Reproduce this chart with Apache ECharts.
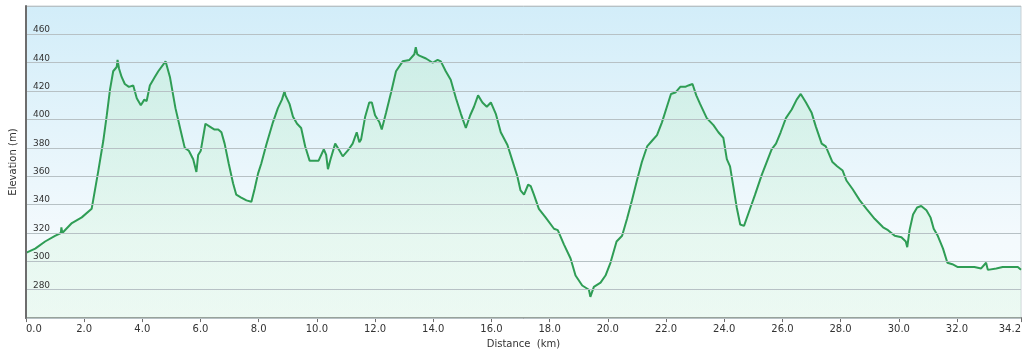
<!DOCTYPE html>
<html>
<head>
<meta charset="utf-8">
<title>Elevation profile</title>
<script src="https://cdn.jsdelivr.net/npm/echarts@6.0.0/dist/echarts.min.js"></script>
<style>
    html, body { margin: 0; padding: 0; background: #fff; }
    #chart { width: 1024px; height: 354px; }
</style>
</head>
<body>
<div id="chart"></div>
<script>
// distance along the route (km)
const distances = [
    0.00, 0.32, 0.66, 1.00, 1.20, 1.22, 1.25, 1.58, 1.92, 2.26, 2.30,
    2.49, 2.66, 2.78, 2.89, 3.00, 3.12, 3.15, 3.20, 3.29, 3.40, 3.54,
    3.69, 3.81, 3.95, 4.07, 4.15, 4.26, 4.43, 4.55, 4.80, 4.95, 5.14,
    5.32, 5.46, 5.60, 5.75, 5.86, 5.92, 6.01, 6.17, 6.32, 6.47, 6.61,
    6.72, 6.83, 6.97, 7.12, 7.23, 7.40, 7.58, 7.75, 7.86, 7.98, 8.09,
    8.26, 8.49, 8.66, 8.80, 8.89, 8.92, 9.06, 9.18, 9.32, 9.46, 9.60,
    9.75, 9.92, 10.06, 10.24, 10.32, 10.38, 10.47, 10.63, 10.78, 10.89,
    11.06, 11.23, 11.37, 11.46, 11.52, 11.66, 11.80, 11.89, 12.00, 12.15,
    12.23, 12.38, 12.55, 12.72, 12.95, 13.18, 13.35, 13.40, 13.45, 13.52,
    13.75, 13.98, 14.15, 14.26, 14.43, 14.60, 14.78, 14.95, 15.12, 15.27,
    15.40, 15.54, 15.69, 15.84, 15.98, 16.15, 16.32, 16.55, 16.72, 16.89,
    17.00, 17.12, 17.26, 17.35, 17.46, 17.63, 17.86, 18.15, 18.28, 18.49,
    18.72, 18.89, 19.12, 19.35, 19.40, 19.52, 19.75, 19.92, 20.09, 20.30,
    20.49, 20.66, 20.83, 21.00, 21.17, 21.35, 21.52, 21.69, 21.86, 22.03,
    22.17, 22.32, 22.49, 22.66, 22.77, 22.91, 23.04, 23.17, 23.40, 23.63,
    23.80, 23.97, 24.09, 24.20, 24.32, 24.43, 24.55, 24.68, 24.87, 25.06,
    25.29, 25.46, 25.63, 25.78, 25.94, 26.12, 26.32, 26.49, 26.63, 26.81,
    27.00, 27.15, 27.35, 27.49, 27.72, 27.88, 28.07, 28.20, 28.41, 28.66,
    28.89, 29.17, 29.46, 29.63, 29.86, 30.09, 30.24, 30.29, 30.37, 30.49,
    30.63, 30.77, 30.95, 31.09, 31.20, 31.34, 31.52, 31.67, 31.84, 32.03,
    32.32, 32.60, 32.83, 33.00, 33.06, 33.35, 33.57, 33.86, 34.09, 34.20
]

// elevation (m)
const elevations = [
    306, 309, 314, 318, 320, 324, 320, 327, 331, 337, 338,
    364, 385, 403, 421, 434, 437, 442, 436, 430, 425, 423,
    424, 415, 410, 414, 413, 424, 430, 434, 441, 430, 408,
    392, 380, 378, 372, 363, 375, 378, 397, 395, 393, 393,
    391, 383, 369, 355, 347, 345, 343, 342, 351, 362, 369,
    382, 398, 408, 414, 420, 417, 411, 402, 397, 394, 381,
    371, 371, 371, 379, 375, 365, 372, 383, 378, 374,
    378, 383, 391, 384, 386, 402, 412, 412, 403, 398,
    393, 405, 419, 434, 441, 442, 446, 451, 446, 445,
    443, 440, 442, 441, 434, 428, 415, 404, 394, 403,
    409, 417, 412, 409, 412, 404, 391, 382, 371, 360,
    350, 347, 354, 353, 347, 337, 331, 323, 322, 312,
    302, 290, 283, 280, 275, 282, 285, 290, 299, 314,
    318, 330, 343, 357, 370, 381, 385, 389, 398, 409,
    418, 419, 423, 423, 424, 425, 417, 411, 401, 396,
    391, 387, 372, 367, 352, 338, 326, 325, 336, 347,
    361, 370, 379, 383, 391, 401, 407, 414, 418, 412,
    405, 395, 383, 381, 370, 367, 364, 357, 351, 343,
    337, 330, 324, 322, 318, 317, 314, 310, 322, 333,
    338, 339, 336, 331, 323, 318, 309, 299, 298, 296,
    296, 296, 295, 299, 294, 295, 296, 296, 296, 294
]

// labelled ticks on the distance axis
const distanceTicks = [0, 2, 4, 6, 8, 10, 12, 14, 16, 18, 20, 22, 24, 26, 28, 30, 32, 34.2]

const fontFamily = '"DejaVu Sans", Verdana, sans-serif'

const chart = echarts.init(document.getElementById('chart'))

const option = {
    backgroundColor: '#ffffff',
    animation: false,
    grid: {
        left: 24,
        right: 2,
        top: 6,
        bottom: 35,
        show: true,
        borderColor: '#c9d1d5',
        borderWidth: 1,
        backgroundColor: new echarts.graphic.LinearGradient(0, 0, 0, 1, [
            { offset: 0, color: '#d2edf9' },
            { offset: 0.75, color: '#f4fafd' },
            { offset: 1, color: '#f6fbfc' }
        ])
    },
    xAxis: {
        type: 'value',
        min: 0,
        max: 34.2,
        name: 'Distance  (km)',
        nameLocation: 'middle',
        nameGap: 19,
        nameTextStyle: { color: '#333', fontSize: 10, fontFamily: fontFamily },
        splitLine: { show: false },
        axisLine: { show: true, lineStyle: { color: '#6d6d6d', width: 2 } },
        axisTick: {
            show: true,
            length: 4,
            customValues: distanceTicks,
            lineStyle: { color: '#6d6d6d' }
        },
        axisLabel: {
            customValues: distanceTicks,
            color: '#333',
            fontSize: 10,
            fontFamily: fontFamily,
            margin: 6,
            alignMinLabel: 'left',
            alignMaxLabel: 'right',
            formatter: v => v.toFixed(1)
        }
    },
    yAxis: {
        type: 'value',
        min: 260,
        max: 480,
        interval: 20,
        name: 'Elevation (m)',
        nameLocation: 'middle',
        nameGap: 1,
        nameTextStyle: { color: '#333', fontSize: 10, fontFamily: fontFamily },
        axisLine: { show: true, lineStyle: { color: '#6d6d6d', width: 2 } },
        axisTick: { show: false },
        splitLine: {
            show: true,
            lineStyle: { color: '#b7c1c5', width: 1 }
        },
        axisLabel: {
            inside: true,
            margin: 7,
            verticalAlign: 'bottom',
            color: '#333',
            fontSize: 9,
            fontFamily: fontFamily,
            formatter: v => (v === 260 || v === 480) ? '' : String(v)
        },
        z: 5
    },
    series: [
        {
            type: 'line',
            data: distances.map((d, i) => [d, elevations[i]]),
            showSymbol: false,
            smooth: false,
            lineStyle: { color: '#2f9d55', width: 2 },
            areaStyle: {
                color: new echarts.graphic.LinearGradient(0, 0, 0, 1, [
                    { offset: 0, color: 'rgba(185, 235, 200, 0.55)' },
                    { offset: 1, color: 'rgba(220, 247, 228, 0.55)' }
                ])
            },
            z: 2
        }
    ]
}

chart.setOption(option)
</script>
</body>
</html>
